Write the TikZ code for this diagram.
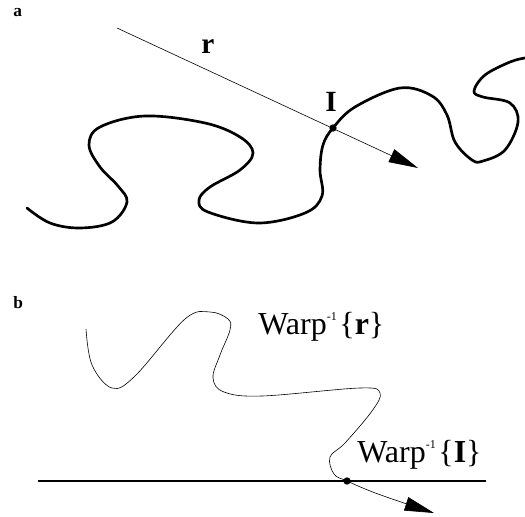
\documentclass[tikz,border=0pt]{standalone}
\usepackage{fontspec}
\setmainfont{Liberation Serif}
\usetikzlibrary{arrows.meta}
\newcommand{\supmone}{\raisebox{10pt}{\fontsize{9}{10}\selectfont -1}\kern2pt}
\begin{document}
\begin{tikzpicture}[x=0.75pt,y=-0.75pt,
  thickcurve/.style={line width=2pt,line cap=round,line join=round},
  thincurve/.style={line width=0.45pt},
  dotnode/.style={circle,fill=black,inner sep=0pt,minimum size=5.5pt},
  tiparrow/.style={-{Triangle[length=22pt,width=10.5pt]}},
  biglabel/.style={font=\fontsize{24}{26}\selectfont,inner sep=0pt},
  boldlabel/.style={font=\fontsize{22}{24}\selectfont\bfseries,inner sep=0pt},
  paneltag/.style={font=\fontsize{13}{15}\selectfont\bfseries,inner sep=0pt}]
\useasboundingbox (0,0) rectangle (525,517);
% panel a
\node[paneltag,anchor=base west] (ta) at (13,17) {a};
\draw[thickcurve] plot[smooth,tension=0.6] coordinates {
 (27,208) (50,223) (80,228) (112,222) (127,202) (118,186) (100,167) (89,145) (100,127)
 (145,116) (205,123) (240,137) (253,153) (240,170) (210,187) (199,200) (208,212)
 (258,223) (305,213) (322,196) (320,170) (323,145) (333,128) (355,107) (400,88)
 (432,96) (447,115) (455,142) (472,160) (483,161) (505,150) (518,122) (510,103)
 (483,97) (474,91) (485,75) (510,62) (525,58)};
\node[dotnode] (I) at (333,128) {};
\coordinate (rs) at (117,28);
\coordinate (re) at (418,168);
\draw[thincurve,tiparrow] (rs) -- (re);
\node[boldlabel,anchor=base] (lr) at (208,54) {r};
\node[boldlabel,anchor=base] (lI) at (331,112) {I};
% panel b
\node[paneltag,anchor=base west] (tb) at (13,308) {b};
\coordinate (ls) at (38,481);
\coordinate (le) at (486,481);
\draw[line width=2pt] (ls) -- (le);
\draw[thincurve,tiparrow] plot[smooth,tension=0.6] coordinates {
 (86,329) (92,365) (112,388) (135,376) (185,319) (210,312) (228,319) (230,330)
 (220,355) (213,378) (224,392) (262,396) (360,388) (380,393) (372,411) (345,443)
 (330,457) (334,474) (347,481) (378,494) (434,513)};
\node[dotnode] (W) at (347,481) {};
\node[biglabel,anchor=base west] (lw1) at (258,334) {Warp\supmone\{\textbf{r}\}};
\node[biglabel,anchor=base west] (lw2) at (357,462) {Warp\supmone\{\textbf{I}\}};
\end{tikzpicture}
\end{document}
